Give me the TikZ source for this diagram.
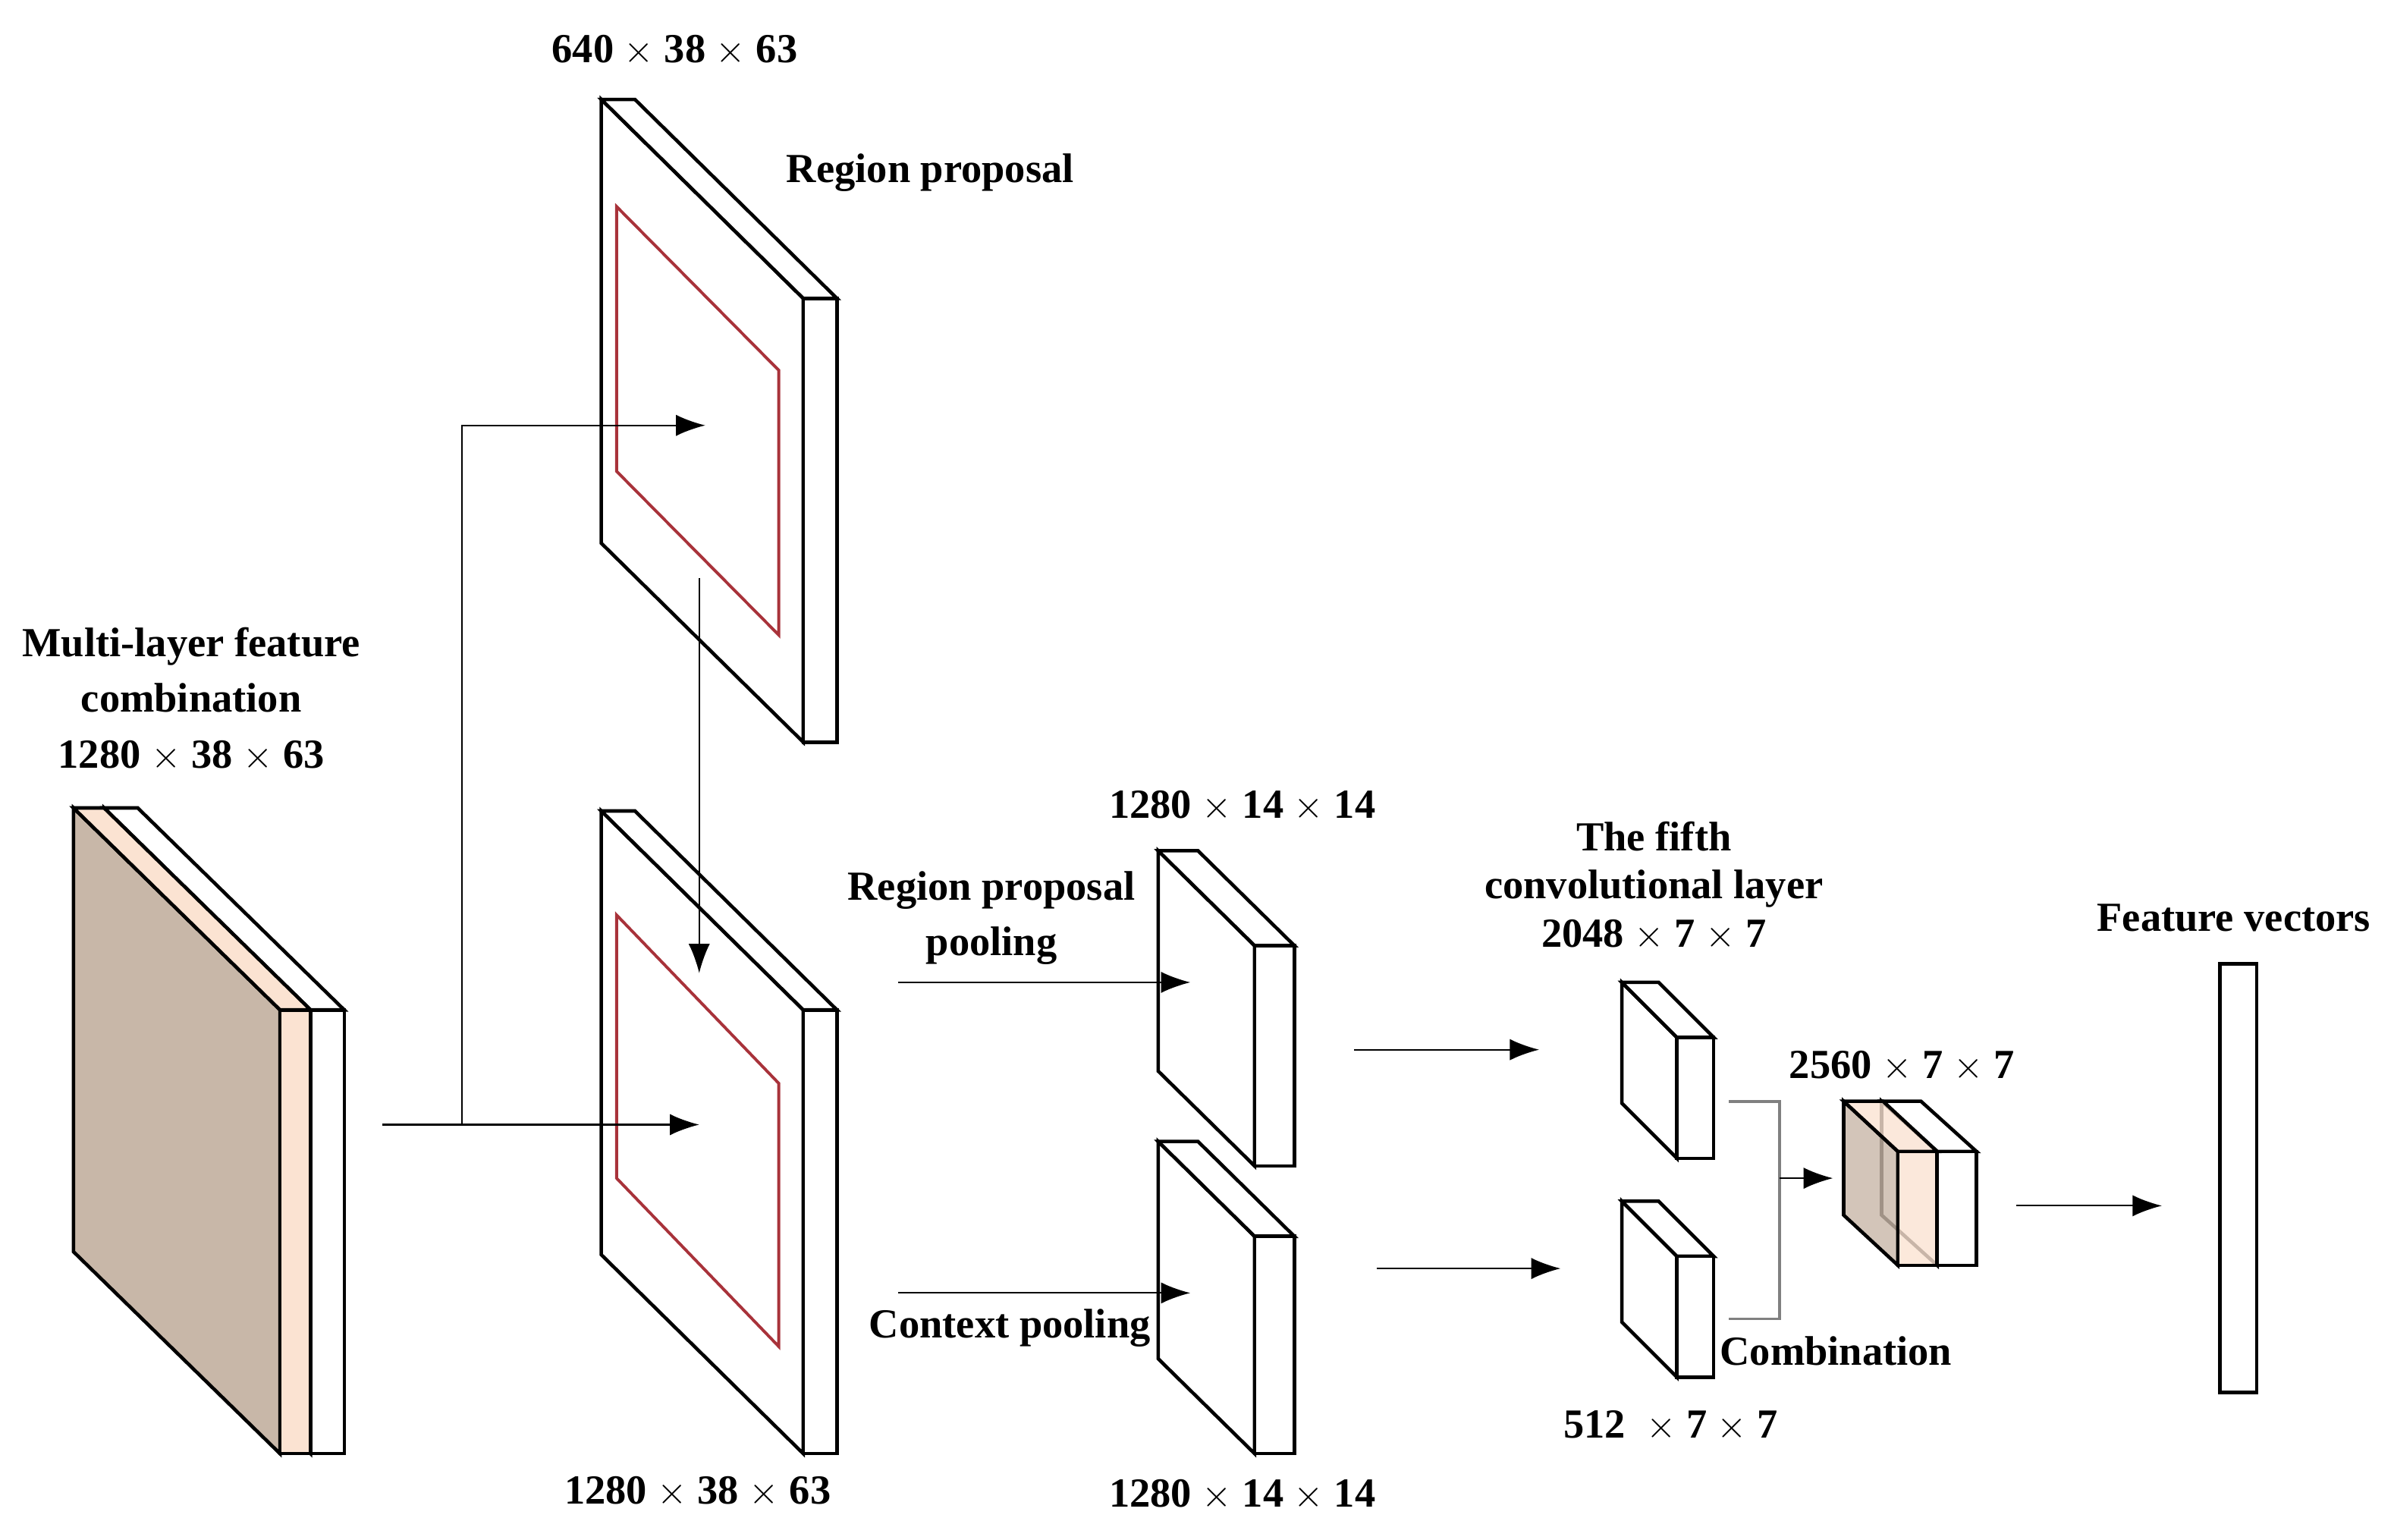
\documentclass[tikz,border=0pt]{standalone}
\usepackage{fontspec}
\setmainfont{Liberation Serif}
\usetikzlibrary{arrows.meta}
\definecolor{brn}{HTML}{C8B7A8}
\definecolor{org}{HTML}{FBE3D2}
\definecolor{rd}{HTML}{A8323A}
\newcommand\myslab[9]{% x y h dx dy w side front opacity
  \begin{scope}[fill opacity=#9]
  \filldraw[box,fill=#7] (#1,#2) -- (#1+#4,#2+#5) -- (#1+#4,#2+#5+#3) -- (#1,#2+#3) -- cycle;
  \filldraw[box,fill=#8] (#1,#2) -- (#1+#6,#2) -- (#1+#4+#6,#2+#5) -- (#1+#4,#2+#5) -- cycle;
  \filldraw[box,fill=#8] (#1+#4,#2+#5) rectangle (#1+#4+#6,#2+#5+#3);
  \end{scope}}
\begin{document}
\begin{tikzpicture}[x=0.02017cm,y=-0.02017cm,
  box/.style={draw=black,line width=1.3pt,line join=miter},
  arr/.style={draw=black,line width=0.6pt,-{Latex[length=11,width=8]}},
  lbl/.style={font=\fontsize{15.5}{18}\selectfont\bfseries,align=center,inner sep=0pt}]
\useasboundingbox (0,0) rectangle (1564.7,1006);
% left slab
\myslab{68}{528}{290}{135}{132}{22}{white}{white}{1}
\myslab{48}{528}{290}{135}{132}{20}{brn}{org}{1}
% planes
\myslab{393}{65}{290}{132}{130}{22}{white}{white}{1}
\draw[rd,line width=1.1pt] (403,135) -- (509,242) -- (509,415) -- (403,308) -- cycle;
\myslab{393}{530}{290}{132}{130}{22}{white}{white}{1}
\draw[rd,line width=1.1pt] (403,598) -- (509,708) -- (509,880) -- (403,770) -- cycle;
% pooling
\myslab{757}{556}{144}{63}{62}{26}{white}{white}{1}
\myslab{757}{746}{142}{63}{62}{26}{white}{white}{1}
% conv
\myslab{1060}{642}{79}{36}{36}{24}{white}{white}{1}
\myslab{1060}{785}{79}{36}{36}{24}{white}{white}{1}
% combined
\myslab{1229.8}{719.7}{74.4}{36.3}{32.8}{25.7}{white}{white}{1}
\myslab{1205}{719.7}{74.4}{35.4}{32.8}{25.7}{brn}{org}{0.8}
% feature vector
\draw[box] (1451,630) rectangle (1475,910);
% coordinates
\coordinate (s0) at (250,735); \coordinate (b1) at (457,735);
\coordinate (j) at (302,735); \coordinate (j2) at (302,278); \coordinate (t1) at (461,278);
\coordinate (v0) at (457,378); \coordinate (v1) at (457,636);
\coordinate (p0) at (587,642); \coordinate (p1) at (778,642);
\coordinate (q0) at (587,845); \coordinate (q1) at (778,845);
\coordinate (r0) at (885,686); \coordinate (r1) at (1006,686);
\coordinate (u0) at (900,829); \coordinate (u1) at (1020,829);
\coordinate (k1) at (1130,720); \coordinate (k2) at (1163,720);
\coordinate (k3) at (1163,862); \coordinate (k4) at (1130,862);
\coordinate (km) at (1163,770); \coordinate (ke) at (1198,770);
\coordinate (f0) at (1318,788); \coordinate (f1) at (1413,788);
\draw[arr] (s0) -- (b1);
\draw[arr] (j) -- (j2) -- (t1);
\draw[arr] (v0) -- (v1);
\draw[arr] (p0) -- (p1);
\draw[arr] (q0) -- (q1);
\draw[arr] (r0) -- (r1);
\draw[arr] (u0) -- (u1);
\draw[gray,line width=1pt] (k1) -- (k2) -- (k3) -- (k4);
\draw[arr] (km) -- (ke);
\draw[arr] (f0) -- (f1);
% labels
\node[lbl] (l1) at (125,457) {Multi-layer feature\\[3pt]combination\\[3pt]1280 $\times$ 38 $\times$ 63};
\node[lbl] (l2) at (441,33) {640 $\times$ 38 $\times$ 63};
\node[lbl] (l3) at (608,113) {Region proposal};
\node[lbl] (l4) at (456,975) {1280 $\times$ 38 $\times$ 63};
\node[lbl] (l5) at (648,600) {Region proposal\\[3pt]pooling};
\node[lbl] (l6) at (660,868) {Context pooling};
\node[lbl] (l7) at (812,527) {1280 $\times$ 14 $\times$ 14};
\node[lbl] (l8) at (812,977) {1280 $\times$ 14 $\times$ 14};
\node[lbl] (l9) at (1081,579) {The fifth\\convolutional layer\\2048 $\times$ 7 $\times$ 7};
\node[lbl] (l10) at (1243,697) {2560 $\times$ 7 $\times$ 7};
\node[lbl] (l11) at (1200,883) {Combination};
\node[lbl] (l12) at (1092,932) {512\ \ $\times$ 7 $\times$ 7};
\node[lbl] (l13) at (1460,600) {Feature vectors};
\end{tikzpicture}
\end{document}
